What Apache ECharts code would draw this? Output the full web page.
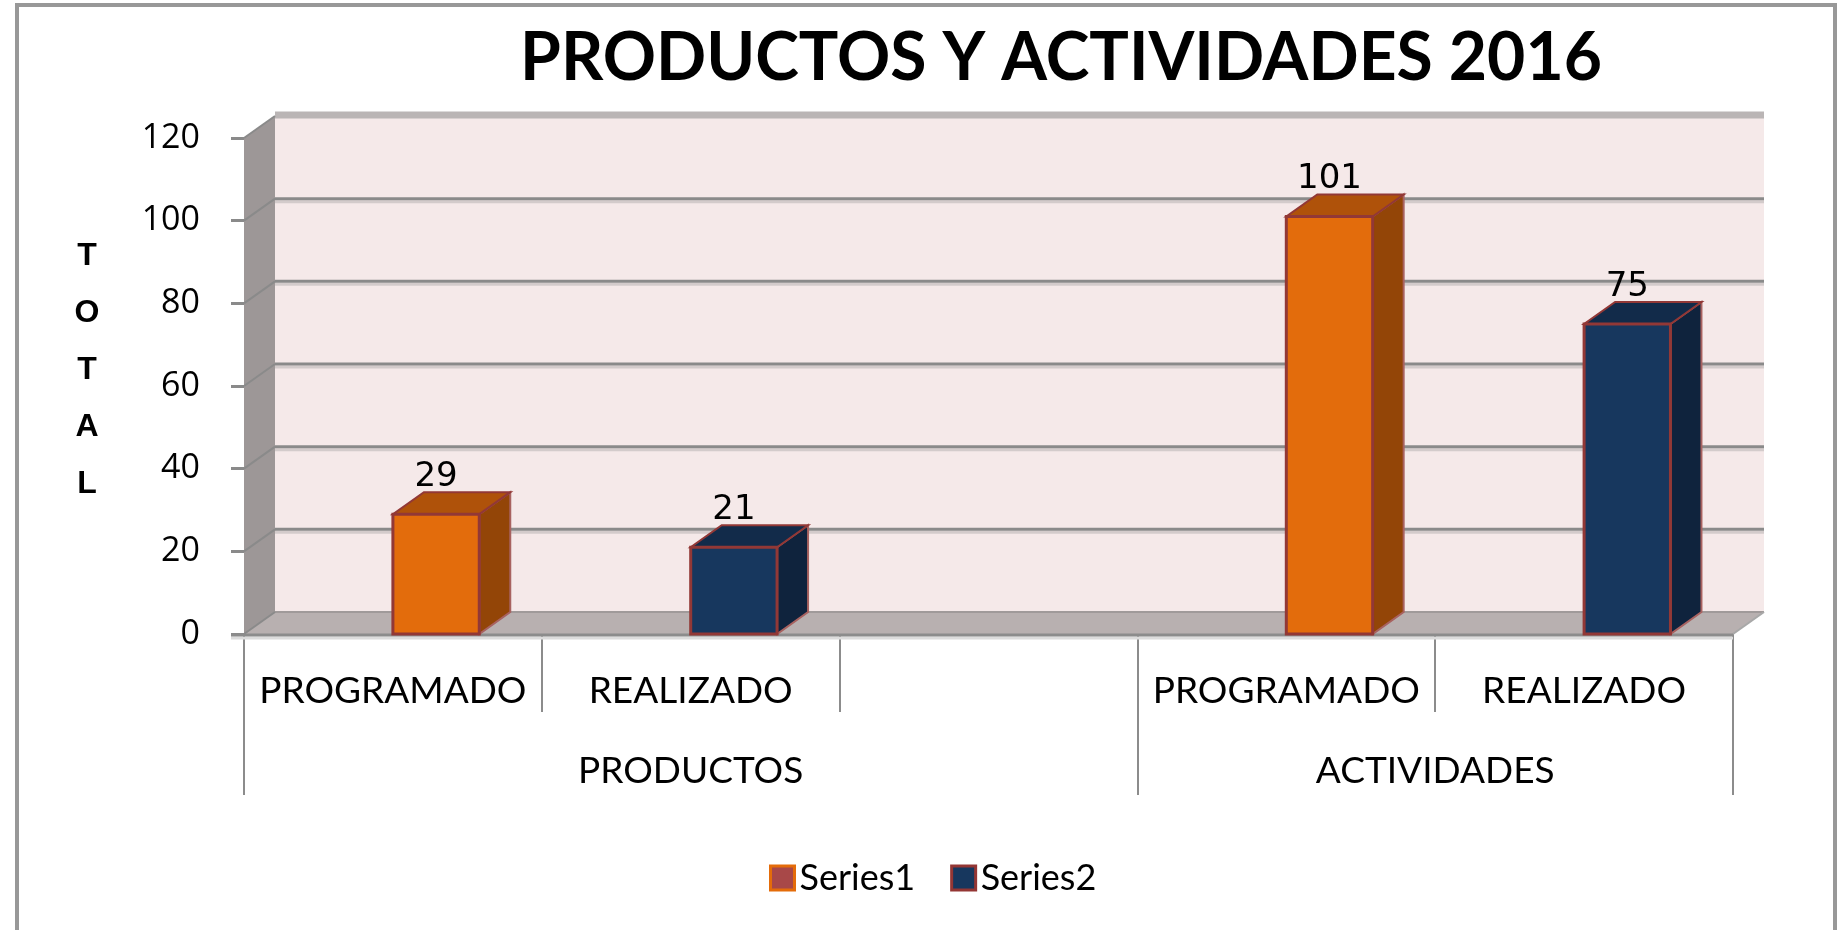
<!DOCTYPE html>
<html>
<head>
<meta charset="utf-8">
<script src="https://cdn.jsdelivr.net/npm/echarts@6/dist/echarts.min.js"></script>
<style>
  html, body { margin: 0; padding: 0; background: #ffffff; }
  #chart { width: 1840px; height: 930px; }
</style>
</head>
<body>
<div id="chart"></div>
<script>
// ---- data ----
const chartTitle = 'PRODUCTOS Y ACTIVIDADES 2016';
const yAxisTitle = 'T\nO\nT\nA\nL';
const categories = ['PROGRAMADO', 'REALIZADO', '', 'PROGRAMADO', 'REALIZADO'];
const groupLabels = ['', '', '', 'PRODUCTOS', '', '', '', '', 'ACTIVIDADES', '', ''];
const groupDividers = [0, 6, 10];
const seriesNames = ['Series1', 'Series2'];
const series1 = [29, null, null, 101, null];
const series2 = [null, 21, null, null, 75];
const yTicks = [0, 20, 40, 60, 80, 100, 120];

// ---- styles ----
const DX = 31, DY = -22;
const GRID = '#8A8A8A';

const chart = echarts.init(document.getElementById('chart'));

function toItems(arr) {
  return arr.map((v, i) => (v == null ? null : [i, v])).filter(Boolean);
}

function wallsItem(params, api) {
  const cs = params.coordSys;
  const x0 = cs.x, x1 = cs.x + cs.width;
  const y0 = api.coord([0, yTicks[0]])[1];
  const yT = api.coord([0, yTicks[yTicks.length - 1]])[1];
  return {
    type: 'group',
    children: [
      { type: 'rect', shape: { x: x0 + DX, y: yT + DY, width: x1 - x0, height: y0 - yT }, style: { fill: '#F5E9E9' } },
      { type: 'polygon', shape: { points: [[x0, y0], [x0, yT], [x0 + DX, yT + DY], [x0 + DX, y0 + DY]] }, style: { fill: '#9D9797' } },
      { type: 'polygon', shape: { points: [[x0, y0], [x1, y0], [x1 + DX, y0 + DY], [x0 + DX, y0 + DY]] }, style: { fill: '#B8B0B0' } },
      { type: 'line', shape: { x1: x0 + DX, y1: yT + DY - 1, x2: x1 + DX, y2: yT + DY - 1 }, style: { stroke: '#BAB5B5', lineWidth: 7 } },
      { type: 'line', shape: { x1: x0 + DX, y1: y0 + DY, x2: x1 + DX, y2: y0 + DY }, style: { stroke: '#A09A9A', lineWidth: 2 } },
      { type: 'line', shape: { x1: x1, y1: y0, x2: x1 + DX, y2: y0 + DY }, style: { stroke: '#A8A8A8', lineWidth: 2 } },
      { type: 'line', shape: { x1: x0 - 13, y1: y0 + 4, x2: x1, y2: y0 + 4 }, style: { stroke: '#DCDCDC', lineWidth: 3 } },
      { type: 'line', shape: { x1: x0 - 13, y1: y0 + 1, x2: x1, y2: y0 + 1 }, style: { stroke: '#8C8C8C', lineWidth: 3 } }
    ]
  };
}

function gridItem(params, api) {
  const cs = params.coordSys;
  const x0 = cs.x, x1 = cs.x + cs.width;
  const v = api.value(1);
  const y = api.coord([0, v])[1];
  const children = [
    { type: 'line', shape: { x1: x0, y1: y, x2: x0 + DX, y2: y + DY }, style: { stroke: GRID, lineWidth: 2 } }
  ];
  if (v !== yTicks[0] && v !== yTicks[yTicks.length - 1]) {
    children.push({ type: 'line', shape: { x1: x0 + DX, y1: y + DY + 3, x2: x1 + DX, y2: y + DY + 3 }, style: { stroke: '#D3CBCB', lineWidth: 3 } });
    children.push({ type: 'line', shape: { x1: x0 + DX, y1: y + DY, x2: x1 + DX, y2: y + DY }, style: { stroke: GRID, lineWidth: 3 } });
  }
  return { type: 'group', children: children };
}

function barRenderer(front, topC, side) {
  return function (params, api) {
    const i = api.value(0), v = api.value(1);
    const t = api.coord([i, v]);
    const b = api.coord([i, 0]);
    const slot = api.size([1, 0])[0];
    const fw = slot * 0.29;
    const L = t[0], R = L + fw, yt = t[1], yb = b[1];
    const edge = '#923836';
    return {
      type: 'group',
      children: [
        { type: 'polygon', shape: { points: [[R, yt], [R + DX, yt + DY], [R + DX, yb + DY], [R, yb]] }, style: { fill: side, stroke: '#A86260', lineWidth: 2 } },
        { type: 'polygon', shape: { points: [[L, yt], [R, yt], [R + DX, yt + DY], [L + DX, yt + DY]] }, style: { fill: topC, stroke: edge, lineWidth: 2 } },
        { type: 'rect', shape: { x: L, y: yt, width: fw, height: yb - yt }, style: { fill: front, stroke: edge, lineWidth: 3 } },
        { type: 'text', style: { text: String(v), x: L + fw / 2, y: yt + DY + 2, align: 'center', verticalAlign: 'bottom', font: '34px "DejaVu Sans"', fill: '#000000' } }
      ]
    };
  };
}

const option = {
  backgroundColor: '#ffffff',
  animation: false,
  title: [
    { text: chartTitle, left: 1056, top: 21, textAlign: 'center',
      textStyle: { fontFamily: 'Lato', fontWeight: 'bold', fontSize: 66, color: '#000000' } },
    { text: yAxisTitle, left: 82, top: 223, textAlign: 'center',
      textStyle: { fontFamily: 'Liberation Sans', fontWeight: 'bold', fontSize: 32, lineHeight: 57, color: '#000000' } }
  ],
  legend: {
    left: 764, top: 855, itemWidth: 24, itemHeight: 24, itemGap: 35,
    textStyle: { fontFamily: 'Lato', fontSize: 36, color: '#000000', padding: [0, 0, 0, 0] },
    data: [
      { name: seriesNames[0], icon: 'rect', itemStyle: { color: '#A84848', borderColor: '#E46C0A', borderWidth: 3 } },
      { name: seriesNames[1], icon: 'rect', itemStyle: { color: '#17375E', borderColor: '#943634', borderWidth: 3 } }
    ]
  },
  graphic: [
    { type: 'rect', shape: { x: 17, y: 5, width: 1818, height: 1000 }, style: { fill: 'none', stroke: '#989898', lineWidth: 4 }, silent: true }
  ],
  grid: { left: 244, right: 107, top: 138, bottom: 296 },
  xAxis: [
    {
      type: 'category', data: categories, position: 'bottom', boundaryGap: true,
      axisLine: { show: false },
      axisTick: { show: true, interval: 0, length: 78, lineStyle: { color: '#8C8C8C', width: 2 } },
      axisLabel: { interval: 0, margin: 57, verticalAlign: 'middle', fontFamily: 'Lato', fontSize: 37, color: '#000000' },
      splitLine: { show: false }
    },
    {
      type: 'category', data: groupLabels, position: 'bottom', boundaryGap: false,
      axisLine: { show: false },
      axisTick: { show: true, interval: function (idx) { return groupDividers.indexOf(idx) >= 0; }, length: 161, lineStyle: { color: '#8C8C8C', width: 2 } },
      axisLabel: { interval: 0, margin: 137, verticalAlign: 'middle', fontFamily: 'Lato', fontSize: 37, color: '#000000' },
      splitLine: { show: false }
    }
  ],
  yAxis: {
    type: 'value', min: 0, max: 120, interval: 20,
    axisLine: { show: false },
    axisTick: { show: true, length: 13, lineStyle: { color: GRID, width: 3 } },
    axisLabel: { margin: 44, fontFamily: 'Open Sans', fontSize: 34, color: '#000000' },
    splitLine: { show: false }
  },
  series: [
    { type: 'custom', name: 'walls', silent: true, z: 1, xAxisIndex: 0, yAxisIndex: 0,
      renderItem: wallsItem, data: [[0, yTicks[0]]], encode: { x: 0, y: 1 } },
    { type: 'custom', name: 'grid', silent: true, z: 2, xAxisIndex: 0, yAxisIndex: 0,
      renderItem: gridItem, data: yTicks.map(v => [0, v]), encode: { x: 0, y: 1 } },
    { type: 'custom', name: seriesNames[0], z: 3, xAxisIndex: 0, yAxisIndex: 0,
      itemStyle: { color: '#E46C0A' },
      renderItem: barRenderer('#E36C0C', '#AF520A', '#934507'), data: toItems(series1), encode: { x: 0, y: 1 } },
    { type: 'custom', name: seriesNames[1], z: 3, xAxisIndex: 0, yAxisIndex: 0,
      itemStyle: { color: '#17375E' },
      renderItem: barRenderer('#17375E', '#122B4A', '#0F233D'), data: toItems(series2), encode: { x: 0, y: 1 } }
  ]
};

chart.setOption(option);
</script>
</body>
</html>
